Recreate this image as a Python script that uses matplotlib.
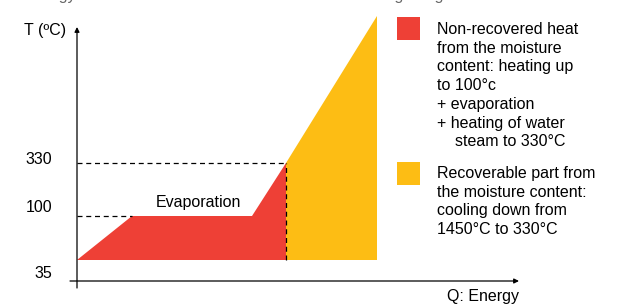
import matplotlib.pyplot as plt
from matplotlib.patches import Polygon, Rectangle

plt.rcParams['font.family'] = ['Liberation Sans', 'DejaVu Sans']

# schematic energy positions (arbitrary units along Q)
q_start = 0
q_evap_start = 55
q_evap_end = 175
q_steam_end = 209
q_cool_end = 300

# temperature levels (schematic vertical positions) and their labels
t_labels = ["35", "100", "330"]
t_levels = [0, 44, 97]
t_top = 244  # 1450 °C

red = "#EE4036"
yellow = "#FDBD14"

legend_red = ("Non-recovered heat\nfrom the moisture\ncontent: heating up\nto 100°c\n"
              "+ evaporation\n+ heating of water\n    steam to 330°C")
legend_yellow = ("Recoverable part from\nthe moisture content:\ncooling down from\n"
                 "1450°C to 330°C")

fig = plt.figure(figsize=(6.17, 3.05), dpi=100)
ax = fig.add_axes([0, 0, 1, 1])
ax.set_xlim(-77, 540)
ax.set_ylim(-45, 260)
ax.axis("off")

y35, y100, y330 = t_levels

# red area: heating, evaporation, steam heating
red_pts = [(q_start, y35), (q_evap_start, y100), (q_evap_end, y100),
           (q_steam_end, y330), (q_steam_end, y35)]
ax.add_patch(Polygon(red_pts, closed=True, facecolor=red, edgecolor="none"))

# yellow area: recoverable part
yel_pts = [(q_steam_end, y330), (q_cool_end, t_top), (q_cool_end, y35), (q_steam_end, y35)]
ax.add_patch(Polygon(yel_pts, closed=True, facecolor=yellow, edgecolor="none"))

# dashed guides
dash = dict(color="black", lw=0.9, ls=(0, (4, 3)))
ax.plot([q_start, q_steam_end], [y330, y330], **dash)
ax.plot([q_start, q_evap_start], [y100, y100], **dash)
ax.plot([q_steam_end, q_steam_end], [y35, y330], **dash)

# axes with arrows
ap = dict(arrowstyle="-|>", lw=0.9, color="black", mutation_scale=7, shrinkA=0, shrinkB=0)
ax.annotate("", xy=(442, -21), xytext=(-7, -21), arrowprops=ap)
ax.annotate("", xy=(0, 233), xytext=(0, -28), arrowprops=ap)

fs = 11.5
ax.text(-11, 229, "T (ºC)", ha="right", va="center", fontsize=fs)
ax.text(442, -37, "Q: Energy", ha="right", va="center", fontsize=fs)
offsets = [-14, 8, 4]
for lab, lev, off in zip(t_labels, t_levels, offsets):
    ax.text(-25, lev + off, lab, ha="right", va="center", fontsize=fs)
ax.text((q_evap_start + q_evap_end) / 2 + 6, y100 + 13, "Evaporation",
        ha="center", va="center", fontsize=fs)

# legend
ax.add_patch(Rectangle((320, 220), 23, 23, facecolor=red, edgecolor="none"))
ax.text(360, 238, legend_red, ha="left", va="top", fontsize=fs, linespacing=1.31)
ax.add_patch(Rectangle((320, 75), 23, 23, facecolor=yellow, edgecolor="none"))
ax.text(360, 94, legend_yellow, ha="left", va="top", fontsize=fs, linespacing=1.3)

# cropped heading at the very top
ax.text(-52, 260, "Energy losses due to the moisture content on heating the glass",
        ha="left", va="baseline", fontsize=fs, color="#666666")

fig.savefig("out.png", dpi=100)
